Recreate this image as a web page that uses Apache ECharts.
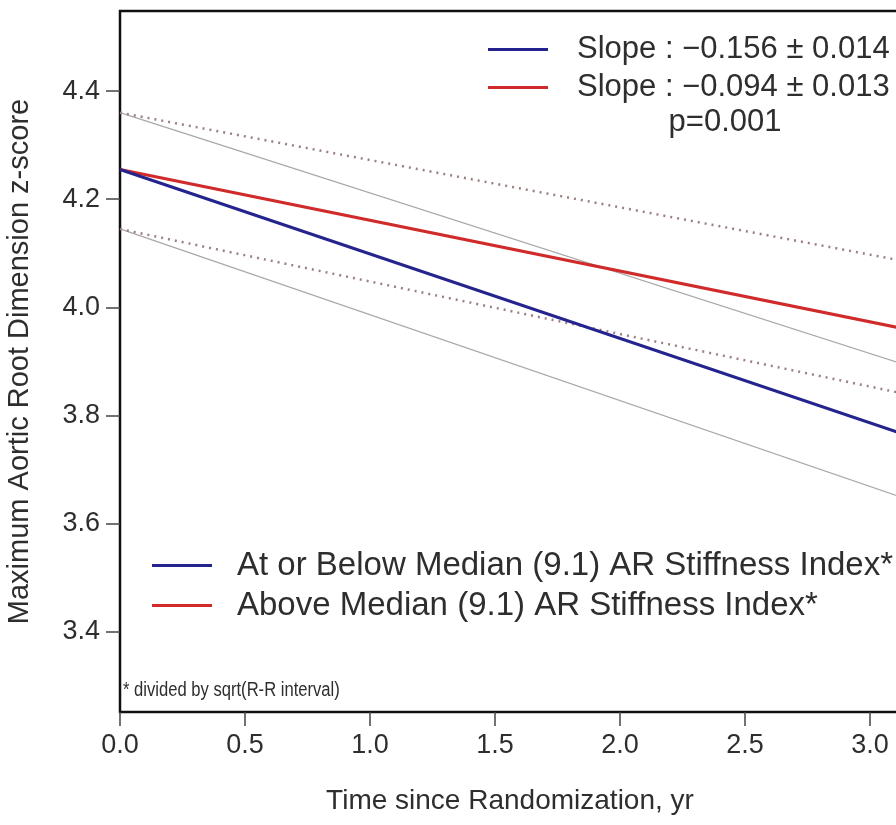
<!DOCTYPE html>
<html>
<head>
<meta charset="utf-8">
<script src="https://cdn.jsdelivr.net/npm/echarts@6/dist/echarts.min.js"></script>
<style>
html,body{margin:0;padding:0;background:#fff;}
#chart{width:896px;height:825px;}
</style>
</head>
<body>
<div id="chart"></div>
<script>
// ---- data ----
const timeEnds = [0, 3.12];                 // yr
const belowMedian = [4.255, 3.768];         // blue fit
const aboveMedian = [4.255, 3.962];         // red fit
const belowUpperCI = [4.36, 3.897];         // thin grey
const belowLowerCI = [4.145, 3.650];        // thin grey
const aboveUpperCI = [4.36, 4.087];         // dotted
const aboveLowerCI = [4.145, 3.842];        // dotted
const xTicks = [0, 0.5, 1.0, 1.5, 2.0, 2.5, 3.0];
const yTicks = [3.4, 3.6, 3.8, 4.0, 4.2, 4.4];
const groupNames = ["At or Below Median (9.1) AR Stiffness Index*", "Above Median (9.1) AR Stiffness Index*"];
const slopeNames = ["Slope : \u22120.156 \u00b1 0.014", "Slope : \u22120.094 \u00b1 0.013"];
const pValueText = "p=0.001";
const footnote = "* divided by sqrt(R-R interval)";
const xName = "Time since Randomization, yr";
const yName = "Maximum Aortic Root Dimension z-score";

const BLUE = '#25248e';
const RED = '#d02a2a';
const FONT = '"Liberation Sans", Arial, sans-serif';
const TXT = '#2e2e2e';

function pts(ys){ return timeEnds.map((x,i)=>[x, ys[i]]); }

const chart = echarts.init(document.getElementById('chart'), null, {renderer:'canvas'});
chart.setOption({
  animation:false,
  backgroundColor:'#fff',
  textStyle:{fontFamily:FONT},
  grid:{left:120, top:11, width:780, bottom:113, outerBoundsMode:'none', show:true, borderColor:'#111', borderWidth:2.5, backgroundColor:'#fff', containLabel:false},
  xAxis:{
    type:'value', min:0, max:3.12,
    name:xName, nameLocation:'middle', nameGap:75,
    nameTextStyle:{fontSize:28, color:TXT, fontFamily:FONT},
    axisLine:{show:false},
    splitLine:{show:false},
    axisTick:{show:true, length:14, customValues:xTicks, lineStyle:{color:'#444', width:1.5}},
    axisLabel:{customValues:xTicks, margin:20, fontSize:27, color:TXT, fontFamily:FONT, formatter:v=>v.toFixed(1)}
  },
  yAxis:{
    type:'value', min:3.252, max:4.548,
    name:yName, nameLocation:'middle', nameGap:86,
    nameTextStyle:{fontSize:29, color:TXT, fontFamily:FONT},
    axisLine:{show:false},
    splitLine:{show:false},
    axisTick:{show:true, length:14, customValues:yTicks, lineStyle:{color:'#444', width:1.5}},
    axisLabel:{customValues:yTicks, margin:20, fontSize:27, color:TXT, fontFamily:FONT, formatter:v=>v.toFixed(1)}
  },
  legend:[
    {data:slopeNames, orient:'vertical', left:483, top:29, icon:'rect', itemWidth:60, itemHeight:3, itemGap:7,
     textStyle:{fontSize:31, color:TXT, fontFamily:FONT, lineHeight:30, padding:[0,0,0,24]}},
    {data:groupNames, orient:'vertical', left:147, top:544, icon:'rect', itemWidth:60, itemHeight:3, itemGap:7,
     textStyle:{fontSize:33, color:TXT, fontFamily:FONT, lineHeight:30, padding:[0,0,0,20]}}
  ],
  graphic:[
    {type:'text', x:725, y:122, style:{text:pValueText, font:'31px '+FONT, fill:TXT, textAlign:'center', textVerticalAlign:'middle'}},
    {type:'text', x:123, y:690, scaleX:0.83, style:{text:footnote, font:'20px '+FONT, fill:TXT, textAlign:'left', textVerticalAlign:'middle'}}
  ],
  series:[
    {name:'belowUpperCI', type:'line', data:pts(belowUpperCI), showSymbol:false, lineStyle:{color:'#a9a9a9', width:1.3}, z:1},
    {name:'belowLowerCI', type:'line', data:pts(belowLowerCI), showSymbol:false, lineStyle:{color:'#a9a9a9', width:1.3}, z:1},
    {name:'aboveUpperCI', type:'line', data:pts(aboveUpperCI), showSymbol:false, lineStyle:{color:'#9c8080', width:2.5, type:[2,5]}, z:1},
    {name:'aboveLowerCI', type:'line', data:pts(aboveLowerCI), showSymbol:false, lineStyle:{color:'#9c8080', width:2.5, type:[2,5]}, z:1},
    {name:groupNames[1], type:'line', data:pts(aboveMedian), showSymbol:false, color:RED, lineStyle:{color:RED, width:3}, z:3},
    {name:groupNames[0], type:'line', data:pts(belowMedian), showSymbol:false, color:BLUE, lineStyle:{color:BLUE, width:3}, z:3},
    {name:slopeNames[0], type:'line', data:[], color:BLUE, lineStyle:{color:BLUE, width:3}},
    {name:slopeNames[1], type:'line', data:[], color:RED, lineStyle:{color:RED, width:3}}
  ]
});
</script>
</body>
</html>
